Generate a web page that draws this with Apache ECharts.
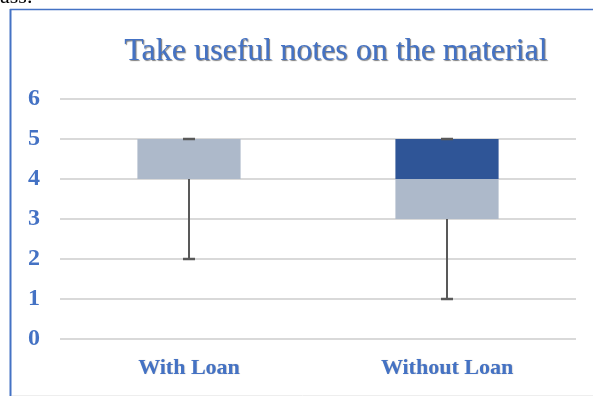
<!DOCTYPE html>
<html>
<head>
<meta charset="utf-8">
<script src="https://cdn.jsdelivr.net/npm/echarts@6/dist/echarts.min.js"></script>
<style>html,body{margin:0;padding:0;background:#fff;}#c{width:593px;height:396px;}</style>
</head>
<body>
<div id="c"></div>
<script>
var categories = ['With Loan', 'Without Loan'];
var mins = [2, 1];
var q1s = [4, 3];
var medians = [5, 4];
var q3s = [5, 5];
var maxs = [5, 5];
var yTicks = [0, 1, 2, 3, 4, 5, 6];

var blue = '#4472C4';
var data = categories.map(function (c, i) {
  return [i, mins[i], q1s[i], medians[i], q3s[i], maxs[i]];
});

var chart = echarts.init(document.getElementById('c'));
chart.setOption({
  animation: false,
  backgroundColor: '#fff',
  title: {
    text: 'Take useful notes on the material',
    left: 331, top: 31, textAlign: 'center',
    textStyle: {
      fontFamily: 'Liberation Serif', fontSize: 32, fontWeight: 'normal', color: blue,
      textShadowColor: 'rgba(40,40,40,0.6)', textShadowOffsetX: 1, textShadowOffsetY: 1, textShadowBlur: 1
    }
  },
  graphic: [
    { type: 'line', shape: { x1: 10.5, y1: 9, x2: 10.5, y2: 396 }, style: { stroke: blue, lineWidth: 2 } },
    { type: 'line', shape: { x1: 10, y1: 9.5, x2: 593, y2: 9.5 }, style: { stroke: blue, lineWidth: 1.5 } },
    { type: 'line', shape: { x1: 12, y1: 395.5, x2: 593, y2: 395.5 }, style: { stroke: '#eeeeee', lineWidth: 1 } },
    { type: 'text', left: 0, top: -14, style: { text: 'ass.', font: '22px "Liberation Serif"', fill: '#000' } }
  ],
  grid: { left: 60, right: 17, top: 99, bottom: 57 },
  xAxis: {
    type: 'category', data: categories,
    axisLine: { show: false }, axisTick: { show: false },
    axisLabel: { margin: 18, fontFamily: 'Liberation Serif', fontSize: 22, fontWeight: 'bold', color: blue,
      textShadowColor: 'rgba(40,40,40,0.3)', textShadowOffsetX: 0.5, textShadowOffsetY: 0.5, textShadowBlur: 1 },
    splitLine: { show: false }
  },
  yAxis: {
    type: 'value', min: yTicks[0], max: yTicks[yTicks.length - 1], interval: 1,
    axisLine: { show: false }, axisTick: { show: false },
    axisLabel: { margin: 20, fontFamily: 'Liberation Serif', fontSize: 24, fontWeight: 'bold', color: blue },
    splitLine: { lineStyle: { color: '#D9D9D9', width: 2 } }
  },
  series: [{
    type: 'custom',
    data: data,
    encode: { x: 0, y: [1, 2, 3, 4, 5] },
    renderItem: function (params, api) {
      var x = api.value(0);
      var pMin = api.coord([x, api.value(1)]);
      var pQ1 = api.coord([x, api.value(2)]);
      var pMed = api.coord([x, api.value(3)]);
      var pQ3 = api.coord([x, api.value(4)]);
      var pMax = api.coord([x, api.value(5)]);
      var bw = api.size([1, 0])[0] * 0.4;
      var cx = pMin[0];
      var capW = 12;
      var children = [];
      children.push({ type: 'rect', shape: { x: cx - bw / 2, y: pMed[1], width: bw, height: pQ1[1] - pMed[1] }, style: { fill: '#ADB9CA' } });
      children.push({ type: 'rect', shape: { x: cx - bw / 2, y: pQ3[1], width: bw, height: pMed[1] - pQ3[1] }, style: { fill: '#2F5597' } });
      var ws = { stroke: '#595959', lineWidth: 2 };
      children.push({ type: 'line', shape: { x1: cx, y1: pMin[1], x2: cx, y2: pQ1[1] }, style: ws });
      children.push({ type: 'line', shape: { x1: cx, y1: pQ3[1], x2: cx, y2: pMax[1] }, style: ws });
      children.push({ type: 'line', shape: { x1: cx - capW / 2, y1: pMin[1], x2: cx + capW / 2, y2: pMin[1] }, style: { stroke: '#595959', lineWidth: 2.5 } });
      children.push({ type: 'line', shape: { x1: cx - capW / 2, y1: pMax[1], x2: cx + capW / 2, y2: pMax[1] }, style: { stroke: '#595959', lineWidth: 2.5 } });
      return { type: 'group', children: children };
    }
  }]
});
</script>
</body>
</html>
